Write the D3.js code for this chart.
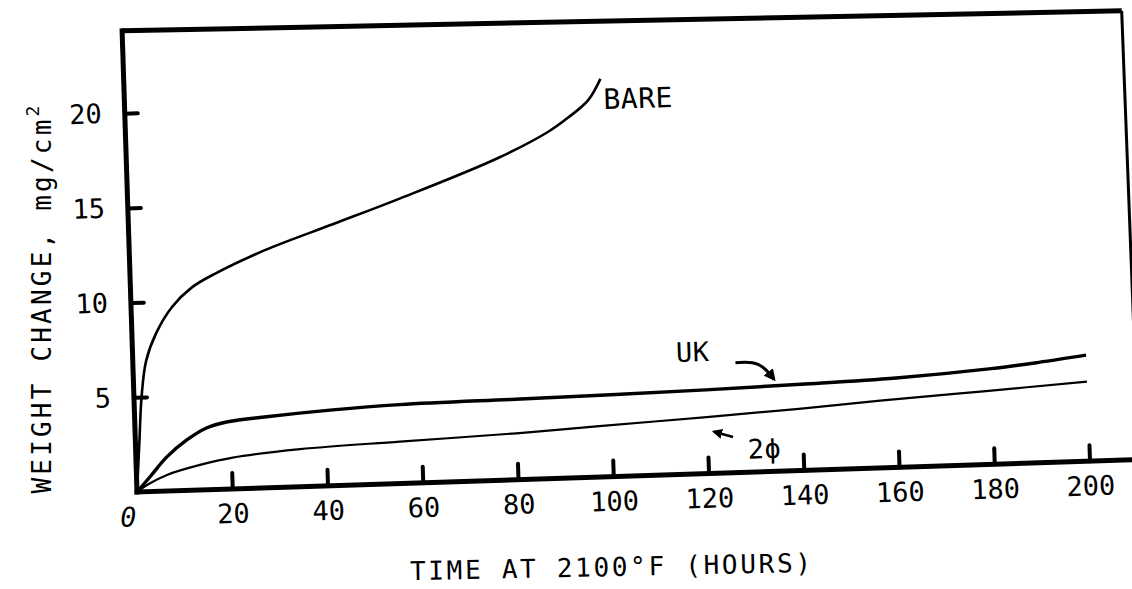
<!DOCTYPE html>
<html>
<head>
<meta charset="utf-8">
<script src="https://cdn.jsdelivr.net/npm/d3@7"></script>
<style>
  body { margin: 0; background: #fff; }
  text { font-family: "DejaVu Sans Mono", monospace; fill: #000; }
</style>
</head>
<body>
<div id="chart"></div>
<script>
// values (hours, mg/cm2)
var bareHours  = [0, 0.8, 1.6, 2.8, 5.1, 8.6, 12.9, 18, 28.6, 43, 56.8, 78, 88.7, 92.9, 97.3, 100];
var bareWeight = [0, 2.5, 5.0, 6.9, 8.35, 9.7, 10.7, 11.4, 12.55, 13.8, 15.0, 17.0, 18.3, 19.0, 19.9, 21.0];

var ukHours  = [0, 2.8, 6.5, 10.8, 15, 19.5, 27.7, 41.6, 55.7, 80, 100, 120, 140, 160, 180, 190, 200];
var ukWeight = [0, 0.77, 1.8, 2.66, 3.26, 3.55, 3.75, 4.0, 4.16, 4.25, 4.32, 4.42, 4.55, 4.72, 5.05, 5.3, 5.6];

var phiHours  = [0, 2.5, 6.4, 13.4, 20.3, 34.5, 55.5, 80, 97.4, 120, 139.4, 156.5, 177.6, 200];
var phiWeight = [0, 0.4, 0.85, 1.32, 1.65, 1.98, 2.21, 2.45, 2.69, 2.98, 3.26, 3.55, 3.86, 4.2];

var xTicks = [0, 20, 40, 60, 80, 100, 120, 140, 160, 180, 200];
var yTicks = [5, 10, 15, 20];

var svg = d3.select("#chart")
            .append("svg")
            .attr("width", 1132)
            .attr("height", 589);

// the scan is slightly rotated, so the whole plot is drawn in a tilted group
var plot = svg.append("g")
              .attr("transform", "translate(137,492) rotate(-1.85)");

var x = d3.scaleLinear().domain([0, 200]).range([0, 953]);
var y = d3.scaleLinear().domain([0, 20]).range([0, -379]);

var line = d3.line()
             .x(function(d) { return x(d[0]); })
             .y(function(d) { return y(d[1]); });

// frame: top edge and right edge (right edge fades out in the scan)
plot.append("path")
    .attr("d", line([[0, 24.35], [209.8, 23.7]]))
    .attr("fill", "none")
    .attr("stroke", "#000")
    .attr("stroke-width", 5);
plot.append("path")
    .attr("d", line([[209.8, 23.7], [210.2, 5.9]]))
    .attr("fill", "none")
    .attr("stroke", "#000")
    .attr("stroke-width", 3);

// axis lines
plot.append("path")
    .attr("d", line([[0, 0], [0, 24.35]]))
    .attr("stroke", "#000")
    .attr("stroke-width", 5)
    .attr("stroke-linecap", "square");
plot.append("path")
    .attr("d", line([[0, 0], [212, 0]]))
    .attr("stroke", "#000")
    .attr("stroke-width", 5)
    .attr("stroke-linecap", "square");

// x ticks point up into the plot
var xAxis = plot.append("g")
    .call(d3.axisBottom(x)
            .tickValues(xTicks)
            .tickSizeInner(-16)
            .tickSizeOuter(0)
            .tickPadding(15));
xAxis.select(".domain").remove();
xAxis.selectAll(".tick line")
     .attr("stroke-width", 4)
     .attr("stroke-linecap", "round")
     .filter(function(d) { return d === 0; }).remove();
xAxis.selectAll(".tick text")
     .attr("font-family", "DejaVu Sans Mono")
     .attr("font-size", 27)
     .attr("fill", "#000");
xAxis.selectAll(".tick text")
     .filter(function(d) { return d === 0; })
     .attr("x", -10)
     .attr("font-style", "italic");

// y ticks also point into the plot
var yAxis = plot.append("g")
    .call(d3.axisLeft(y)
            .tickValues(yTicks)
            .tickSizeInner(-13)
            .tickSizeOuter(0)
            .tickPadding(23));
yAxis.select(".domain").remove();
yAxis.selectAll(".tick line")
     .attr("stroke-width", 4)
     .attr("stroke-linecap", "round");
yAxis.selectAll(".tick text")
     .attr("font-family", "DejaVu Sans Mono")
     .attr("font-size", 27)
     .attr("fill", "#000");

// curves
var curve = d3.line()
              .x(function(d) { return x(d[0]); })
              .y(function(d) { return y(d[1]); })
              .curve(d3.curveCatmullRom.alpha(0.5));

function pairs(hs, ws) {
  return hs.map(function(h, i) { return [h, ws[i]]; });
}

plot.append("path")
    .attr("d", curve(pairs(bareHours, bareWeight)))
    .attr("fill", "none")
    .attr("stroke", "#000")
    .attr("stroke-width", 2.6);
plot.append("path")
    .attr("d", curve(pairs(ukHours, ukWeight)))
    .attr("fill", "none")
    .attr("stroke", "#000")
    .attr("stroke-width", 3.4);
plot.append("path")
    .attr("d", curve(pairs(phiHours, phiWeight)))
    .attr("fill", "none")
    .attr("stroke", "#000")
    .attr("stroke-width", 2.2);

// arrowhead
svg.append("defs").append("marker")
   .attr("id", "head")
   .attr("viewBox", "0 0 10 10")
   .attr("refX", 8).attr("refY", 5)
   .attr("markerWidth", 4).attr("markerHeight", 4)
   .attr("markerUnits", "strokeWidth")
   .attr("orient", "auto")
   .append("path")
   .attr("d", "M0,0 L10,5 L0,10 Z")
   .attr("fill", "#000");

// labels
plot.append("text")
    .attr("x", x(100.5)).attr("y", y(19.4))
    .attr("font-size", 28)
    .attr("letter-spacing", 0.5)
    .text("BARE");

plot.append("text")
    .attr("x", x(114)).attr("y", y(5.94))
    .attr("font-size", 27)
    .attr("letter-spacing", 0.5)
    .text("UK");
plot.append("path")
    .attr("d", d3.line()
                 .x(function(d) { return x(d[0]); })
                 .y(function(d) { return y(d[1]); })
                 .curve(d3.curveBasis)([[126.4, 5.8], [131.5, 5.85], [134.4, 4.85]]))
    .attr("fill", "none")
    .attr("stroke", "#000")
    .attr("stroke-width", 3)
    .attr("marker-end", "url(#head)");

plot.append("text")
    .attr("x", x(128.4)).attr("y", y(0.71))
    .attr("font-size", 27)
    .attr("letter-spacing", 0.5)
    .text("2ϕ");
plot.append("path")
    .attr("d", line([[125.4, 1.89], [121.4, 2.2]]))
    .attr("fill", "none")
    .attr("stroke", "#000")
    .attr("stroke-width", 2.6)
    .attr("marker-end", "url(#head)");

// axis titles
svg.append("text")
   .attr("x", 612).attr("y", 576)
   .attr("text-anchor", "middle")
   .attr("font-size", 26)
   .attr("letter-spacing", 2.7)
   .attr("transform", "rotate(-1.2,612,576)")
   .text("TIME AT 2100°F (HOURS)");

var yTitle = svg.append("text")
   .attr("transform", "translate(51,298) rotate(-90)")
   .attr("text-anchor", "middle")
   .attr("font-size", 26)
   .attr("letter-spacing", 3.2);
yTitle.append("tspan").text("WEIGHT CHANGE, mg/cm");
yTitle.append("tspan").attr("dy", -12).attr("font-size", 18).text("2");
</script>
</body>
</html>
